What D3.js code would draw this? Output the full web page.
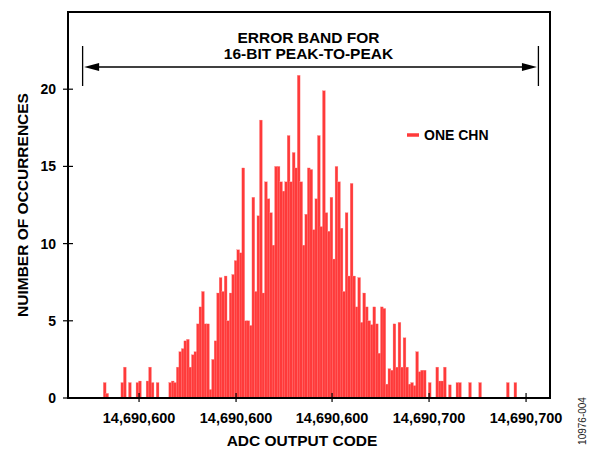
<!DOCTYPE html>
<html>
<head>
<meta charset="utf-8">
<script src="https://cdn.jsdelivr.net/npm/d3@7"></script>
<style>
  html, body { margin: 0; padding: 0; background: #fff; }
  svg text { font-family: "Liberation Sans", Arial, Helvetica, sans-serif; }
</style>
</head>
<body>
<div id="chart"></div>
<script>
// Occurrences per output code bin, left to right
const counts = [
  1, 0.3, 0, 0, 0, 0, 0, 1, 2, 0,
  1, 0, 0, 1, 1.1, 0, 0, 1.1, 2, 1,
  0, 1, 0, 0, 0, 0, 1, 1.1, 1, 2,
  3, 3.2, 3.7, 3.8, 2, 2.8, 3, 4.8, 5.9, 6.9,
  4.8, 4.8, 0.55, 2.5, 3.7, 6.8, 7.8, 6.9, 7.9, 5,
  6.8, 8, 8.9, 9.6, 9.4, 14.9, 5, 5, 4.7, 13,
  6.9, 11.8, 18, 6.8, 14, 12.9, 12, 9.9, 15, 15,
  14, 13.4, 14, 17, 14, 15.9, 14.9, 20.9, 14, 9.9,
  11.9, 14.9, 14.8, 10.9, 12.9, 17, 11.1, 19.9, 12, 10.8,
  13, 9, 15, 14, 11, 6.9, 12, 7.9, 13.9, 7.9,
  5.9, 7.8, 4.9, 6.8, 5.9, 5, 4.75, 5.9, 4.8, 2.9,
  5.9, 5.8, 0.9, 1.9, 1.8, 4.8, 2, 4.9, 2, 3.9,
  2, 0.9, 1, 0.8, 3, 1.7, 1.8, 1.8, 0, 1,
  0, 0, 2, 1.1, 1.1, 2, 0, 0.85, 0, 0,
  1, 1, 0, 0, 0, 1, 0, 0, 0, 1,
  0, 0, 0, 0, 0, 0, 0, 0, 0, 0,
  1, 0, 0, 1
];

// x axis: tick positions in bin units, with the labels as printed
const xTickBins = [14.2, 52.7, 90.8, 129.3, 167.8];
const xTickLabels = ['14,690,600', '14,690,600', '14,690,600', '14,690,700', '14,690,700'];
const xDomain = [-14, 177.3];

// y axis
const yTicks = [0, 5, 10, 15, 20];
const yDomain = [0, 25];

// error band (bin units) and annotation text
const errorBand = [-8.2, 172.7];
const bandLabel = ['ERROR BAND FOR', '16-BIT PEAK-TO-PEAK'];
const seriesName = 'ONE CHN';

const W = 594, H = 449;
const margin = { top: 12, right: 44, bottom: 51, left: 68 };
const width = W - margin.left - margin.right;
const height = H - margin.top - margin.bottom;
const RED = '#ff3a3a';

const svg = d3.select('#chart').append('svg')
  .attr('width', W).attr('height', H)
  .attr('viewBox', `0 0 ${W} ${H}`);

const g = svg.append('g')
  .attr('transform', `translate(${margin.left},${margin.top})`);

const x = d3.scaleLinear().domain(xDomain).range([0, width]);
const y = d3.scaleLinear().domain(yDomain).range([height, 0]);
const step = x(1) - x(0);

// Bars (slightly overlapping, thin light edge like the original export)
g.selectAll('.bar')
  .data(counts.map((v, i) => ({ i, v })).filter(d => d.v > 0))
  .enter()
  .append('rect')
  .attr('x', d => x(d.i))
  .attr('y', d => y(d.v))
  .attr('width', step + 0.3)
  .attr('height', d => height - y(d.v))
  .attr('fill', RED)
  .attr('stroke', '#ff8a8a')
  .attr('stroke-width', 0.3);

// Frame
g.append('rect')
  .attr('x', 0).attr('y', 0)
  .attr('width', width).attr('height', height)
  .attr('fill', 'none')
  .attr('stroke', '#000')
  .attr('stroke-width', 2);

// Y ticks, crossing the axis
g.selectAll('.ytick')
  .data(yTicks)
  .enter()
  .append('line')
  .attr('x1', -5).attr('x2', 5)
  .attr('y1', d => y(d)).attr('y2', d => y(d))
  .attr('stroke', '#000').attr('stroke-width', 1.2);

g.selectAll('.ylab')
  .data(yTicks)
  .enter()
  .append('text')
  .attr('x', -12)
  .attr('y', d => y(d))
  .attr('dy', '0.36em')
  .attr('text-anchor', 'end')
  .style('font-size', '14px')
  .style('font-weight', 'bold')
  .text(d => d);

// X ticks
g.selectAll('.xtick')
  .data(xTickBins)
  .enter()
  .append('line')
  .attr('x1', d => x(d)).attr('x2', d => x(d))
  .attr('y1', height - 5).attr('y2', height + 4)
  .attr('stroke', '#000').attr('stroke-width', 1.2);

g.selectAll('.xlab')
  .data(xTickBins)
  .enter()
  .append('text')
  .attr('x', d => x(d))
  .attr('y', height + 25)
  .attr('text-anchor', 'middle')
  .style('font-size', '14.5px')
  .style('font-weight', 'bold')
  .text((d, i) => xTickLabels[i]);

// Axis titles
svg.append('text')
  .attr('x', margin.left + x((xDomain[0] + xDomain[1]) / 2) - 7)
  .attr('y', 446)
  .attr('text-anchor', 'middle')
  .style('font-size', '15.5px')
  .style('font-weight', 'bold')
  .text('ADC OUTPUT CODE');

svg.append('text')
  .attr('transform', `translate(28,${margin.top + height / 2}) rotate(-90)`)
  .attr('text-anchor', 'middle')
  .style('font-size', '15.5px')
  .style('font-weight', 'bold')
  .text('NUIMBER OF OCCURRENCES');

// Error band annotation
const bandY = 55;
const ann = g.append('g');
errorBand.forEach(b => {
  ann.append('line')
    .attr('x1', x(b)).attr('x2', x(b))
    .attr('y1', bandY - 21).attr('y2', bandY + 19)
    .attr('stroke', '#000').attr('stroke-width', 1.3);
});
ann.append('line')
  .attr('x1', x(errorBand[0]) + 10).attr('x2', x(errorBand[1]) - 10)
  .attr('y1', bandY).attr('y2', bandY)
  .attr('stroke', '#000').attr('stroke-width', 1.6);
const xl = x(errorBand[0]) + 1.5, xr = x(errorBand[1]) - 1.5;
ann.append('path')
  .attr('d', `M${xl},${bandY} L${xl + 15},${bandY - 4} L${xl + 15},${bandY + 4} Z`)
  .attr('fill', '#000');
ann.append('path')
  .attr('d', `M${xr},${bandY} L${xr - 15},${bandY - 4} L${xr - 15},${bandY + 4} Z`)
  .attr('fill', '#000');

ann.selectAll('.band-label')
  .data(bandLabel)
  .enter()
  .append('text')
  .attr('x', x((errorBand[0] + errorBand[1]) / 2) - 2)
  .attr('y', (d, i) => 31 + i * 16)
  .attr('text-anchor', 'middle')
  .style('font-size', '15.5px')
  .style('font-weight', 'bold')
  .text(d => d);

// Legend
const leg = svg.append('g').attr('transform', 'translate(407,135)');
leg.append('line')
  .attr('x1', 0).attr('x2', 12)
  .attr('y1', 0).attr('y2', 0)
  .attr('stroke', RED).attr('stroke-width', 3.5);
leg.append('text')
  .attr('x', 17).attr('y', 0)
  .attr('dy', '0.36em')
  .style('font-size', '14px')
  .style('font-weight', 'bold')
  .text(seriesName);

// Figure number
svg.append('text')
  .attr('transform', 'translate(586,421) rotate(-90)')
  .attr('text-anchor', 'middle')
  .style('font-size', '10px')
  .style('fill', '#222')
  .text('10976-004');
</script>
</body>
</html>
